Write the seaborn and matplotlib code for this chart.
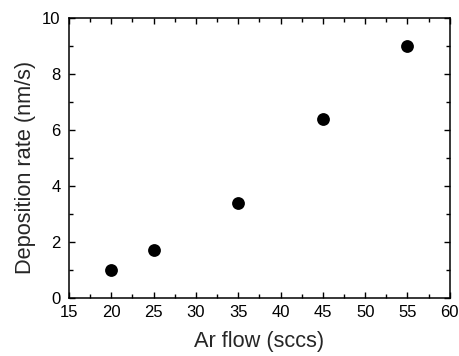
import matplotlib
matplotlib.use("Agg")
import matplotlib.pyplot as plt
import seaborn as sns
import pandas as pd
from matplotlib.ticker import MultipleLocator

ar_flow = [20, 25, 35, 45, 55]
dep_rate = [1.0, 1.7, 3.4, 6.4, 9.0]

sns.set_style("ticks")
plt.rcParams['font.family'] = ['Liberation Sans', 'DejaVu Sans']

df = pd.DataFrame({"Ar flow (sccs)": ar_flow, "Deposition rate (nm/s)": dep_rate})

fig = plt.figure(figsize=(4.59, 3.56), dpi=100)
ax = fig.add_axes([0.150, 0.163, 0.830, 0.786])
sns.scatterplot(data=df, x="Ar flow (sccs)", y="Deposition rate (nm/s)", ax=ax,
                color="black", s=85, edgecolor="black", linewidth=0, zorder=3)
ax.set_xlim(15, 60)
ax.set_ylim(0, 10)
ax.xaxis.set_major_locator(MultipleLocator(5))
ax.xaxis.set_minor_locator(MultipleLocator(2.5))
ax.yaxis.set_major_locator(MultipleLocator(2))
ax.yaxis.set_minor_locator(MultipleLocator(1))
ax.tick_params(which="both", direction="in", top=True, right=True, labelsize=12,
               width=1, colors="black")
ax.tick_params(axis="x", which="major", pad=5)
ax.tick_params(axis="y", which="major", pad=6)
ax.tick_params(which="major", length=4)
ax.tick_params(which="minor", length=3)
for s in ax.spines.values():
    s.set_linewidth(1.1)
    s.set_color("black")
ax.set_xlabel("Ar flow (sccs)", fontsize=15.7)
ax.set_ylabel("Deposition rate (nm/s)", fontsize=15.7)
ax.xaxis.set_label_coords(0.499, -0.118)
ax.yaxis.set_label_coords(-0.087, 0.468)
fig.savefig("out.png", dpi=100)
